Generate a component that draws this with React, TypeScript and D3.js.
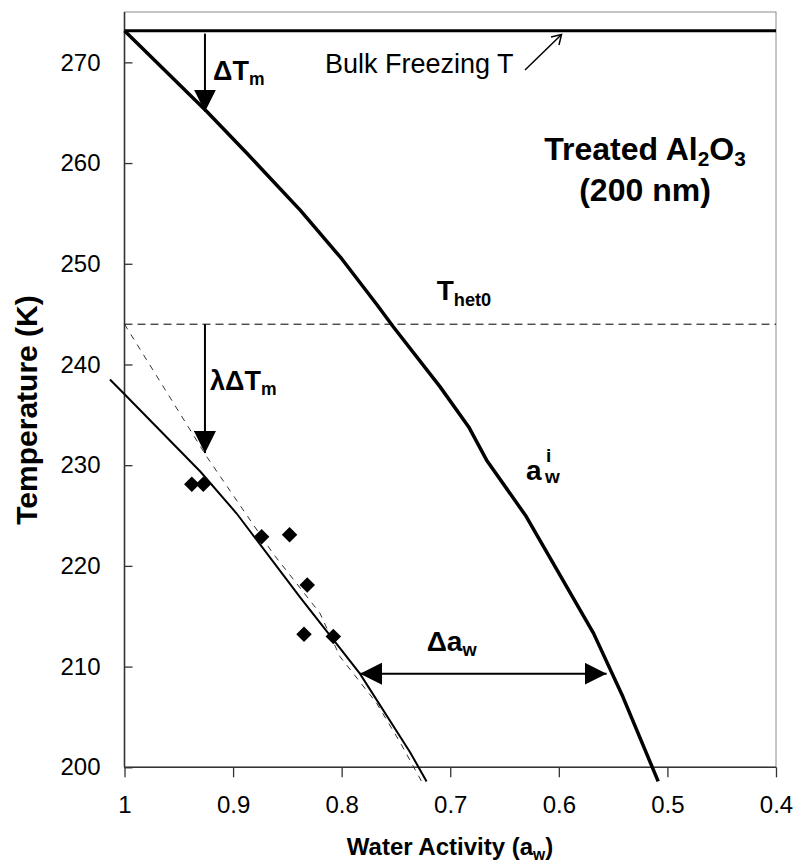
import React, {useEffect, useRef} from "react";
import * as d3 from "d3";

// ice melting curve a_w^i (water activity, temperature K)
const iceAw = [1.0, 0.924, 0.8875, 0.838, 0.80, 0.768, 0.7525, 0.7095, 0.683, 0.6665, 0.63, 0.568, 0.541, 0.5085];
const iceT = [273.15, 265.1, 261.0, 255.3, 250.5, 246.0, 243.75, 237.8, 233.8, 230.5, 224.9, 213.3, 207.0, 198.6];

// shifted fit (thin solid)
const fitAw = [1.0134, 0.9995, 0.930, 0.8967, 0.8384, 0.7832, 0.737, 0.7218];
const fitT = [238.5, 237.0, 229.35, 225.2, 216.9, 209.3, 201.5, 198.6];

// lambda-scaled curve (thin dashed)
const lamAw = [1.0, 0.924, 0.863, 0.82, 0.8016, 0.768, 0.7463, 0.7264];
const lamT = [244.0, 230.8, 221.2, 215.3, 211.0, 206.4, 202.5, 198.6];

// measured freezing points
const obsAw = [0.938, 0.9274, 0.8737, 0.848, 0.8317, 0.8347, 0.8077];
const obsT = [228.1, 228.1, 222.9, 223.1, 218.1, 213.2, 213.0];

const xTicks = [1, 0.9, 0.8, 0.7, 0.6, 0.5, 0.4];
const yTicks = [200, 210, 220, 230, 240, 250, 260, 270];

const bulkT = 273.15;
const thet0 = 244.0;

const W = 795, H = 867;
const FONT = "'Liberation Sans', Arial, Helvetica, sans-serif";

function draw(node: SVGSVGElement) {
    const svg = d3.select(node);
    svg.selectAll("*").remove();

    const x = d3.scaleLinear().domain([1, 0.4]).range([124.5, 776]);
    const y = d3.scaleLinear().domain([200, 275]).range([767.3, 12]);

    const defs = svg.append("defs");
    defs.append("marker")
        .attr("id", "tri")
        .attr("viewBox", "0 0 10 10")
        .attr("refX", 10).attr("refY", 5)
        .attr("markerUnits", "userSpaceOnUse")
        .attr("markerWidth", 22).attr("markerHeight", 22)
        .attr("orient", "auto-start-reverse")
        .append("path").attr("d", "M0,0 L10,5 L0,10 Z").attr("fill", "#000");

    // plot frame
    svg.append("rect")
        .attr("x", x(1)).attr("y", y(275))
        .attr("width", x(0.4) - x(1)).attr("height", y(200) - y(275))
        .attr("fill", "none").attr("stroke", "#8c8c8c").attr("stroke-width", 1);

    // axes
    const yAxis = svg.append("g")
        .attr("transform", `translate(${x(1)},0)`)
        .call(d3.axisLeft(y).tickValues(yTicks).tickSize(-8).tickPadding(24).tickFormat(d3.format("d")));
    const xAxis = svg.append("g")
        .attr("transform", `translate(0,${y(200)})`)
        .call(d3.axisBottom(x).tickValues(xTicks).tickSize(10).tickPadding(19).tickFormat(d => String(+d)));
    [xAxis, yAxis].forEach(a => {
        a.select(".domain").remove();
        a.selectAll("line").attr("stroke", "#333").attr("stroke-width", 1.3);
        a.selectAll("text").attr("font-family", FONT).attr("font-size", 24).attr("fill", "#000");
    });
    svg.append("line").attr("x1", x(1)).attr("x2", x(1)).attr("y1", y(275)).attr("y2", y(200))
        .attr("stroke", "#333").attr("stroke-width", 1.6);
    svg.append("line").attr("x1", x(1)).attr("x2", x(0.4)).attr("y1", y(200)).attr("y2", y(200))
        .attr("stroke", "#333").attr("stroke-width", 1.6);

    // bulk freezing T and T_het0
    svg.append("line").attr("x1", x(1)).attr("x2", x(0.4)).attr("y1", y(bulkT)).attr("y2", y(bulkT))
        .attr("stroke", "#000").attr("stroke-width", 3);
    svg.append("line").attr("x1", x(1)).attr("x2", x(0.4)).attr("y1", y(thet0)).attr("y2", y(thet0))
        .attr("stroke", "#000").attr("stroke-width", 1).attr("stroke-dasharray", "8,5");

    const line = d3.line<[number, number]>().x(d => x(d[0])).y(d => y(d[1]));
    const zip = (a: number[], b: number[]) => a.map((v, i) => [v, b[i]] as [number, number]);

    svg.append("path").attr("d", line(zip(lamAw, lamT)))
        .attr("fill", "none").attr("stroke", "#333").attr("stroke-width", 1).attr("stroke-dasharray", "6,6");
    svg.append("path").attr("d", line(zip(fitAw, fitT)))
        .attr("fill", "none").attr("stroke", "#000").attr("stroke-width", 2);
    svg.append("path").attr("d", line(zip(iceAw, iceT)))
        .attr("fill", "none").attr("stroke", "#000").attr("stroke-width", 3.5).attr("stroke-linejoin", "round");

    const diamond = d3.symbol().type(d3.symbolSquare).size(120);
    svg.append("g").selectAll("path")
        .data(zip(obsAw, obsT))
        .join("path")
            .attr("d", diamond)
            .attr("transform", d => `translate(${x(d[0])},${y(d[1])}) rotate(45)`)
            .attr("fill", "#000");

    // arrows
    const arrow = (x1: number, y1: number, x2: number, y2: number, both = false) => {
        const p = svg.append("line")
            .attr("x1", x1).attr("y1", y1).attr("x2", x2).attr("y2", y2)
            .attr("stroke", "#000").attr("stroke-width", 2)
            .attr("marker-end", "url(#tri)");
        if (both) p.attr("marker-start", "url(#tri)");
    };
    arrow(x(0.9259), y(bulkT) + 3, x(0.9259), y(265.1));
    arrow(x(0.9259), y(thet0), x(0.9259), y(231.2));
    arrow(x(0.7831), y(209.3), x(0.556), y(209.3), true);

    // open arrow to bulk line
    svg.append("line").attr("x1", 525).attr("y1", 70).attr("x2", 561).attr("y2", 35)
        .attr("stroke", "#000").attr("stroke-width", 1.5);
    svg.append("path").attr("d", "M551,37 L561.5,34.5 L559,45")
        .attr("fill", "none").attr("stroke", "#000").attr("stroke-width", 1.5);

    // labels; parts marked "sub" are lowered and smaller
    const txt = (px: number, py: number, size: number, bold: boolean, parts: [string, string?][], anchor = "start") => {
        const t = svg.append("text").attr("x", px).attr("y", py)
            .attr("font-family", FONT).attr("font-size", size)
            .attr("font-weight", bold ? "bold" : "normal").attr("text-anchor", anchor);
        let off = 0;
        parts.forEach(([s, kind]) => {
            const sp = t.append("tspan").text(s);
            const target = kind === "sub" ? size * 0.2 : 0;
            if (target !== off) sp.attr("dy", target - off);
            off = target;
            if (kind === "sub") sp.attr("font-size", size * 0.65);
        });
        return t;
    };
    txt(325, 72.7, 27, false, [["Bulk Freezing T"]]);
    txt(213, 80, 27, true, [["ΔT"], ["m", "sub"]]);
    txt(210, 390, 27, true, [["λΔT"], ["m", "sub"]]);
    txt(436.7, 300, 28, true, [["T"], ["het0", "sub"]]);
    txt(426.7, 650.7, 28, true, [["Δa"], ["w", "sub"]]);
    txt(645, 160, 32, true, [["Treated Al"], ["2", "sub"], ["O"], ["3", "sub"]], "middle");
    txt(645, 201, 32, true, [["(200 nm)"]], "middle");
    txt(526, 480, 28, true, [["a"]]);
    txt(546, 462, 19, true, [["i"]]);
    txt(545, 483, 19, true, [["w"]]);

    txt(450, 855, 24, true, [["Water Activity (a"], ["w", "sub"], [")"]], "middle");
    svg.append("text")
        .attr("transform", `translate(37,410) rotate(-90)`)
        .attr("text-anchor", "middle")
        .attr("font-family", FONT).attr("font-size", 30).attr("font-weight", "bold")
        .text("Temperature (K)");
}

export default function App() {
    const ref = useRef<SVGSVGElement>(null);
    useEffect(() => { if (ref.current) draw(ref.current); }, []);
    return <svg ref={ref} width={W} height={H}
                style={{position: "absolute", left: 0, top: 0, background: "#fff"}}></svg>;
}
